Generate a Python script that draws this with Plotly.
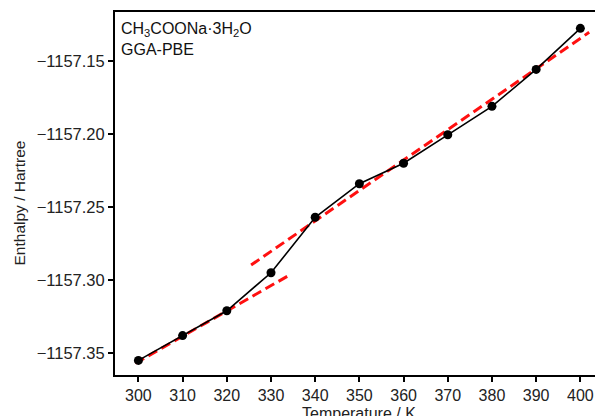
import plotly.graph_objects as go

temps = [300, 310, 320, 330, 340, 350, 360, 370, 380, 390, 400]
enthalpy = [-1157.355, -1157.338, -1157.321, -1157.295, -1157.257, -1157.234,
            -1157.220, -1157.2005, -1157.181, -1157.1557, -1157.1276]

fit_low_x = [299.3, 334.5]
fit_low_y = [-1157.357, -1157.296]
fit_high_x = [325.5, 402.0]
fit_high_y = [-1157.2897, -1157.1303]

y_ticks = [-1157.35, -1157.30, -1157.25, -1157.20, -1157.15]
y_ticklabels = ["\u22121157.35", "\u22121157.30", "\u22121157.25", "\u22121157.20", "\u22121157.15"]
x_ticks = list(range(300, 401, 10))

font = "Liberation Sans, Arial, sans-serif"

fig = go.Figure()
for fx, fy in [(fit_low_x, fit_low_y), (fit_high_x, fit_high_y)]:
    fig.add_trace(go.Scatter(x=fx, y=fy, mode="lines",
                             line=dict(color="#ff1010", width=3, dash="10px,5px"),
                             showlegend=False))
fig.add_trace(go.Scatter(x=temps, y=enthalpy, mode="lines+markers",
                         line=dict(color="black", width=1.6),
                         marker=dict(color="black", size=9),
                         showlegend=False))

fig.add_annotation(x=0, y=1, xref="paper", yref="paper", xanchor="left", yanchor="top",
                   xshift=4, yshift=-6, align="left", showarrow=False,
                   text="CH<sub>3</sub>COONa\u00b73H<sub>2</sub>O<br>GGA-PBE",
                   font=dict(family=font, size=16, color="#111"))

# x-axis title (partly cut at the bottom edge as in the reference)
fig.add_annotation(x=0.5, y=0, xref="paper", yref="paper", xanchor="center",
                   yanchor="middle", yshift=-38, showarrow=False,
                   text="Temperature / K",
                   font=dict(family=font, size=16, color="#222"))

# y-axis title
fig.add_annotation(x=0, y=0.5, xref="paper", yref="paper", xanchor="center",
                   yanchor="middle", xshift=-96.5, yshift=-9.5, textangle=-90,
                   showarrow=False, text="Enthalpy / Hartree",
                   font=dict(family=font, size=15.5, color="#222"))

fig.update_layout(
    width=595, height=408,
    margin=dict(l=107, r=1, t=4, b=41),
    paper_bgcolor="white", plot_bgcolor="white",
    font=dict(family=font, size=16, color="#222"),
    xaxis=dict(range=[294.7, 404.9], tickvals=x_ticks, ticks="outside", ticklen=5,
               tickwidth=1.5, tickcolor="black", showline=True, linecolor="black",
               linewidth=2, mirror=True, showgrid=False, zeroline=False,
               tickfont=dict(size=16),
               automargin=False),
    yaxis=dict(range=[-1157.365, -1157.1164], tickvals=y_ticks, ticktext=y_ticklabels,
               ticks="outside", ticklen=5, tickwidth=1.5, tickcolor="black",
               showline=True, linecolor="black", linewidth=2, mirror=True,
               showgrid=False, zeroline=False,
               tickfont=dict(size=16.5),
               automargin=False),
)

fig.write_html("out.html")
